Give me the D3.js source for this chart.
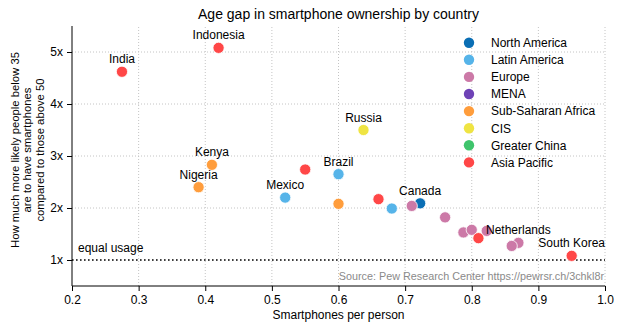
<!DOCTYPE html>
<html><head><meta charset="utf-8">
<script src="https://cdn.jsdelivr.net/npm/d3@7"></script>
<style>
body{margin:0;background:#fff;}
text{font-family:"Liberation Sans",Arial,sans-serif;fill:#000;}
</style></head>
<body><svg id="c" width="623" height="331"></svg>
<script>
const regions = ["North America","Latin America","Europe","MENA","Sub-Saharan Africa","CIS","Greater China","Asia Pacific"];
const regionColors = ["#0a6eb4","#56b4e9","#cc79a7","#6e42b6","#ff9d3c","#efe443","#3fc46c","#ff4747"];
// points (drawn in this order)
const names   = ["Canada","Mexico","Brazil","","","","","","","","Netherlands","","Kenya","Nigeria","","Russia","India","Indonesia","","","","South Korea"];
const region  = ["North America","Latin America","Latin America","Latin America","Europe","Europe","Europe","Europe","Europe","Europe","Europe","Europe","Sub-Saharan Africa","Sub-Saharan Africa","Sub-Saharan Africa","CIS","Asia Pacific","Asia Pacific","Asia Pacific","Asia Pacific","Asia Pacific","Asia Pacific"];
const perPerson = [0.7225,0.52,0.60,0.68,0.71,0.76,0.7875,0.80,0.8225,0.87,0.87,0.86,0.41,0.39,0.60,0.6375,0.275,0.42,0.55,0.66,0.81,0.95];
const gapRatio  = [2.09,2.20,2.65,1.99,2.04,1.82,1.53,1.58,1.56,1.33,1.33,1.27,2.83,2.40,2.08,3.50,4.62,5.08,2.74,2.17,1.42,1.08];
const xTicks = [0.2,0.3,0.4,0.5,0.6,0.7,0.8,0.9,1.0];
const yTicks = [1,2,3,4,5];

const svg = d3.select("#c");
const W=623,H=331, m={l:72,r:18,t:26,b:45};
const x = d3.scaleLinear().domain([0.2,1.0]).range([m.l, W-m.r]);
const y = d3.scaleLinear().domain([0.5,5.5]).range([H-m.b, m.t]);
const color = d3.scaleOrdinal().domain(regions).range(regionColors);

// grid
svg.append("g").selectAll("line").data(xTicks.slice(1)).join("line")
  .attr("x1",d=>x(d)).attr("x2",d=>x(d)).attr("y1",y(0.5)).attr("y2",y(5.5))
  .attr("stroke","#c4c4c4").attr("stroke-dasharray","1,2");
svg.append("g").selectAll("line").data(yTicks.slice(1)).join("line")
  .attr("x1",x(0.2)).attr("x2",x(1.0)).attr("y1",d=>y(d)).attr("y2",d=>y(d))
  .attr("stroke","#c4c4c4").attr("stroke-dasharray","1,2");

// equal usage line
svg.append("line").attr("x1",x(0.2)).attr("x2",x(1.0)).attr("y1",y(1)).attr("y2",y(1))
  .attr("stroke","#000").attr("stroke-width",1.6).attr("stroke-dasharray","1.6,2.4");
svg.append("text").attr("x",x(0.2)+6).attr("y",y(1)-8).attr("font-size",12).text("equal usage");

// axes
const xa = svg.append("g").attr("transform",`translate(0,${H-m.b})`)
  .call(d3.axisBottom(x).tickValues(xTicks).tickFormat(d3.format(".1f")).tickSize(5).tickPadding(4));
const ya = svg.append("g").attr("transform",`translate(${m.l},0)`)
  .call(d3.axisLeft(y).tickValues(yTicks).tickFormat(d=>d+"x").tickSize(5).tickPadding(4));
[xa,ya].forEach(a=>{a.selectAll("text").attr("font-size",12).attr("font-family","Liberation Sans, Arial, sans-serif");
  a.select(".domain").attr("stroke","#000");});
ya.select(".domain").attr("d",`M-0,${y(5.5)}V${y(0.5)}`);
xa.select(".domain").attr("d",`M${x(0.2)},0H${x(1.0)}`);

// source
svg.append("text").attr("x",x(1.0)-1).attr("y",H-m.b-6).attr("text-anchor","end")
  .attr("font-size",10.8).style("fill","#8a8a8a").text("Source: Pew Research Center https://pewrsr.ch/3chkl8r");

// points
const pts = perPerson.map((v,i)=>({x:v,y:gapRatio[i],name:names[i],region:region[i]}));
svg.append("g").selectAll("circle").data(pts).join("circle")
  .attr("cx",d=>x(d.x)).attr("cy",d=>y(d.y)).attr("r",5.6)
  .attr("fill",d=>color(d.region)).attr("stroke","#fff").attr("stroke-width",0.8);
svg.append("g").selectAll("text").data(pts.filter(d=>d.name)).join("text")
  .attr("x",d=>x(d.x)).attr("y",d=>y(d.y)-8.5).attr("text-anchor","middle")
  .attr("font-size",12).text(d=>d.name);

// legend
const lg = svg.append("g").selectAll("g").data(regions).join("g")
  .attr("transform",(d,i)=>`translate(469,${42.7+i*17.1})`);
lg.append("circle").attr("r",5.2).attr("fill",d=>color(d));
lg.append("text").attr("x",22).attr("y",4.3).attr("font-size",12).text(d=>d);

// title
svg.append("text").attr("x",(x(0.2)+x(1.0))/2).attr("y",19).attr("text-anchor","middle")
  .attr("font-size",14).text("Age gap in smartphone ownership by country");

// axis labels
svg.append("text").attr("x",(x(0.2)+x(1.0))/2).attr("y",319).attr("text-anchor","middle")
  .attr("font-size",12).text("Smartphones per person");
const yl = ["How much more likely people below 35","are to have smartphones","compared to those above 50"];
svg.append("g").selectAll("text").data(yl).join("text")
  .attr("transform",(d,i)=>`translate(${18.5+i*12.8},150) rotate(-90)`)
  .attr("text-anchor","middle").attr("font-size",11.3).text(d=>d);
</script></body></html>
